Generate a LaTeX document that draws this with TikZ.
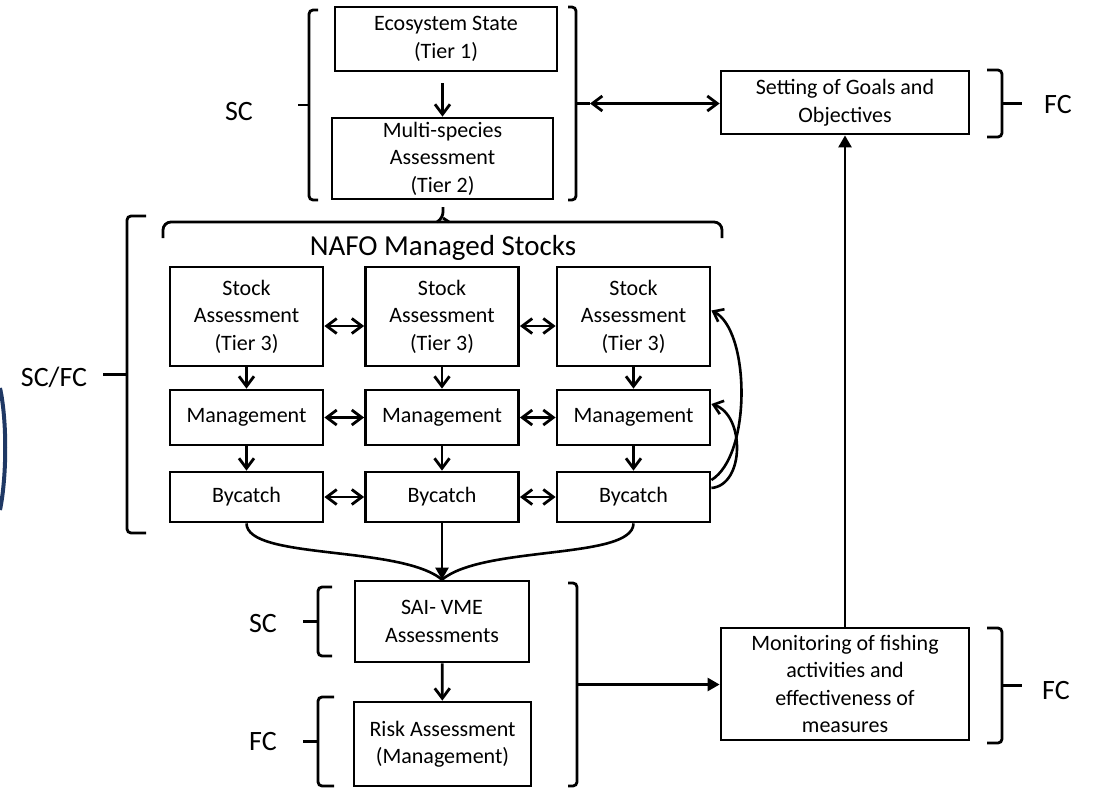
\documentclass[tikz,border=0pt]{standalone}
\usepackage{fontspec}
\setmainfont{Carlito}
\usetikzlibrary{arrows.meta,positioning,calc}
\definecolor{slideNavy}{RGB}{31,56,100}

\begin{document}
\begin{tikzpicture}[x=0.5pt, y=-0.5pt,
  box/.style={draw, line width=1.4pt, rectangle, align=center, inner sep=1pt,
              font=\fontsize{11}{13.75}\selectfont},
  side/.style={font=\fontsize{14}{17}\selectfont},
  brk/.style={line width=1.4pt, rounded corners=2pt},
  barb/.style={-{Straight Barb[length=5pt,width=7.5pt]}, line width=1.4pt},
  dbl/.style={{Straight Barb[length=5pt,width=7.5pt]}-{Straight Barb[length=5pt,width=7.5pt]}, line width=1.4pt},
  tri/.style={-{Triangle[length=6pt,width=6.5pt]}, line width=1.3pt},
  link/.style={line width=1.3pt},
]
\useasboundingbox (0,0) rectangle (1102,788);

% ─── helper macro: square bracket with a tick ──────────────────
% #1=x of bar, #2=top, #3=bottom, #4=x where the ends stop, #5=x of tick, #6=tick name
\newcommand{\sidebrack}[6]{%
  \draw[brk] (#4,#2) -- (#1,#2) -- (#1,#3) -- (#4,#3);
  \coordinate (#6) at (#5,{(#2+#3)/2});
  \draw[brk] (#1,{(#2+#3)/2}) -- (#6);
}

% slide edge
\draw[slideNavy, line width=2pt] (0,388) .. controls (7,420) and (7,475) .. (0,510);

% ─── Tier 1 / Tier 2 ───────────────────────────────────────────
\node[box, minimum width=111pt, minimum height=32pt] (eco) at (446,39)
    {Ecosystem State\\(Tier 1)};
\node[box, minimum width=110.5pt, minimum height=40.5pt] (multi) at (442.5,158.5)
    {Multi-species\\Assessment\\(Tier 2)};
\draw[barb, shorten <=5.5pt] (eco.south -| multi) -- (multi);

\sidebrack{309}{10}{200}{318}{298}{scTop}
\sidebrack{576}{7}{200}{568}{590}{scRight}
\node[side] (scTopLbl) at (239,112) {SC};

% ─── NAFO managed stocks (Tier 3) ──────────────────────────────
\draw[brk, rounded corners=4pt] (163,238) -- (163,222) -- (722,222) -- (722,238);
\draw[brk, rounded corners=3pt] (437,222) -- (443,218) -- (443,207);
\draw[brk, rounded corners=3pt] (449,222) -- (443,218);
\node[font=\fontsize{14.5}{17}\selectfont] (nafo) at (443,248) {NAFO Managed Stocks};

\foreach \c/\xc in {1/246.5, 2/442, 3/633.5}{
  \node[box, minimum width=76.5pt, minimum height=49.5pt] (stock\c) at (\xc,316.5)
      {Stock\\Assessment\\(Tier 3)};
  \node[box, minimum width=76.5pt, minimum height=27.5pt] (mgmt\c) at (\xc,417.5)
      {Management};
  \node[box, minimum width=76.5pt, minimum height=25pt] (byc\c) at (\xc,497)
      {Bycatch};
  \draw[barb] (stock\c) -- (mgmt\c);
  \draw[barb] (mgmt\c) -- (byc\c);
}
\foreach \a/\b in {1/2, 2/3}{
  \draw[dbl] ([yshift=-4.75pt]stock\a.east) -- ([yshift=-4.75pt]stock\b.west);
  \draw[dbl] (mgmt\a) -- (mgmt\b);
  \draw[dbl] (byc\a) -- (byc\b);
}

% feedback from bycatch
\draw[link, -{Straight Barb[length=4.5pt,width=7pt]}]
    ([yshift=8.5pt]byc3.east) .. controls (752,455) and (750,330) .. ([yshift=3pt]stock3.east);
\draw[link, -{Straight Barb[length=4.5pt,width=7pt]}]
    ([yshift=4.5pt]byc3.east) .. controls (745,485) and (745,415) .. ([yshift=6.75pt]mgmt3.east);

\sidebrack{127}{216}{533}{146}{103}{scfcTick}
\node[side] (scfcLbl) at (54,377) {SC/FC};

% ─── SAI / VME ─────────────────────────────────────────────────
\node[box, minimum width=87pt, minimum height=40.5pt] (sai) at (442,621.5)
    {SAI- VME\\Assessments};
\node[box, minimum width=88.5pt, minimum height=42pt] (risk) at (442.5,744)
    {Risk Assessment\\(Management)};

\draw[link] (byc1.south) .. controls (247,560) and (400,545) .. (sai.north);
\draw[link] (byc3.south) .. controls (633,560) and (484,545) .. (sai.north);
\draw[tri] (byc2) -- (sai);
\draw[barb] (sai) -- (risk);

\sidebrack{318}{587}{656}{332}{303}{scLow}
\sidebrack{318}{697}{786}{334}{303}{fcLow}
\node[side] (scLowLbl) at (263,623) {SC};
\node[side] (fcLowLbl) at (263,741) {FC};
\sidebrack{577}{583}{786}{568}{590}{vmeRight}

% ─── Fisheries Commission side ─────────────────────────────────
\node[box, minimum width=124pt, minimum height=31.5pt] (goals) at (845,102.5)
    {Setting of Goals and\\Objectives};
\node[box, minimum width=124pt, minimum height=56pt] (monitor) at (845,684)
    {Monitoring of fishing\\activities and\\effectiveness of\\measures};

\draw[dbl] (scRight) -- (scRight -| goals.west);
\draw[tri] (vmeRight) -- (vmeRight -| monitor.west);
\draw[tri] (monitor) -- (goals);

\sidebrack{1002}{70}{137}{987}{1022}{goalsBrace}
\sidebrack{1002}{628}{743}{987}{1022}{monBrace}
\node[side] (fcGoalsLbl) at (1058,105) {FC};
\node[side] (fcMonLbl) at (1056,690) {FC};

\end{tikzpicture}
\end{document}
